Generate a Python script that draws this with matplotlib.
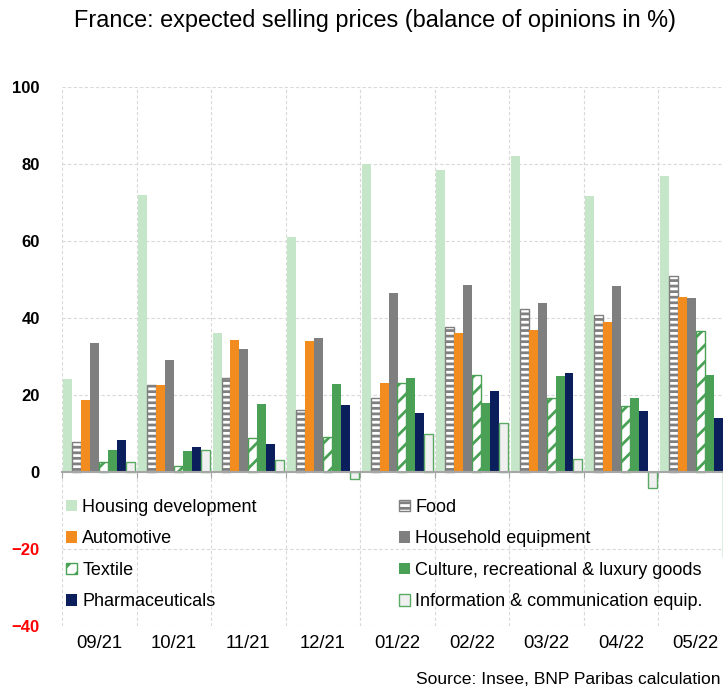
import numpy as np
import matplotlib
matplotlib.use("Agg")
import matplotlib.pyplot as plt
import matplotlib.transforms as mtransforms

plt.rcParams['font.family'] = ['Liberation Sans', 'DejaVu Sans']
plt.rcParams['hatch.linewidth'] = 2.0

# data
months = ["09/21", "10/21", "11/21", "12/21", "01/22", "02/22", "03/22", "04/22", "05/22"]
housing = [24.1, 72.0, 36.1, 61.0, 79.9, 78.4, 81.9, 71.7, 76.7]
food = [7.6, 22.5, 24.4, 16.0, 19.2, 37.6, 42.2, 40.7, 50.9]
automotive = [18.7, 22.5, 34.2, 33.9, 23.1, 36.0, 36.8, 38.8, 45.5]
household = [33.4, 29.0, 31.9, 34.7, 46.5, 48.6, 43.8, 48.2, 45.2]
textile = [2.5, 1.5, 8.7, 9.0, 23.0, 25.0, 19.1, 17.1, 36.5]
culture = [5.6, 5.4, 17.7, 22.8, 24.4, 17.8, 24.8, 19.1, 25.2]
pharma = [8.2, 6.4, 7.2, 17.4, 15.2, 21.0, 25.6, 15.7, 14.0]
info = [2.6, 5.6, 3.1, -1.9, 9.8, 12.6, 3.3, -4.2, -22.1]

labels = ["Housing development", "Food", "Automotive", "Household equipment",
          "Textile", "Culture, recreational & luxury goods", "Pharmaceuticals",
          "Information & communication equip."]
series = [housing, food, automotive, household, textile, culture, pharma, info]

# fill, edge, hatch
styles = [
    ("#c6e6c9", "none", None),
    ("white", "#7f7f7f", "---"),
    ("#f28c1e", "none", None),
    ("#7f7f7f", "none", None),
    ("white", "#4aa155", "//"),
    ("#4aa155", "none", None),
    ("#0b1f5c", "none", None),
    ("#f0f0f0", "#5aaa64", None),
]

fig = plt.figure(figsize=(7.23, 6.91), dpi=100)
ax = fig.add_axes([62/723, 1 - 625.7/691, 671/723, 539/691])

x = np.arange(len(months))
w = 0.12
bars = []
for j, vals in enumerate(series):
    fc, ec, hatch = styles[j]
    b = ax.bar(x + (j - 3.5) * w, vals, w, color=fc, edgecolor=ec,
               hatch=hatch, linewidth=1.0 if ec != "none" else 0, zorder=3,
               label=labels[j])
    bars.append(b)

ax.set_xlim(-0.5, 8.5)
ax.set_ylim(-40, 100)
ax.set_yticks(range(-40, 101, 20))

# grid
ax.grid(axis='y', linestyle=(0, (3, 2)), color='#d9d9d9', linewidth=0.8, zorder=0)
ax.grid(axis='x', linestyle=(0, (3, 2)), color='#d9d9d9', linewidth=0.8, zorder=0)
ax.set_axisbelow(True)

bounds = np.arange(-0.5, 9, 1.0)
ax.set_xticks(bounds)
ax.tick_params(axis='x', length=4, color='#a6a6a6', labelbottom=False, direction='out')
ax.spines['bottom'].set_position(('data', 0))
ax.spines['bottom'].set_color('#a6a6a6')
ax.spines['bottom'].set_linewidth(1.5)
ax.spines['bottom'].set_zorder(4)
for s in ['left', 'right', 'top']:
    ax.spines[s].set_visible(False)

ax.tick_params(axis='y', length=0, pad=16)
for lab, v in zip(ax.get_yticklabels(), ax.get_yticks()):
    lab.set_fontweight('bold')
    lab.set_fontsize(12)
    lab.set_color('red' if v < 0 else 'black')

# month labels at the bottom
trans = mtransforms.blended_transform_factory(ax.transData, fig.transFigure)
for i, m in enumerate(months):
    ax.text(i, 1 - 643/691, m, transform=trans, ha='center', va='center', fontsize=13.3)

# legend in two columns
h = [b for b in bars]
kw = dict(frameon=False, fontsize=13, handlelength=0.6, handleheight=0.6,
          handletextpad=0.3, labelspacing=0.8, borderaxespad=0, borderpad=0,
          loc='upper left', bbox_transform=fig.transFigure)
leg1 = ax.legend([h[i] for i in (0, 2, 4, 6)], [labels[i] for i in (0, 2, 4, 6)],
                 bbox_to_anchor=(66/723, 1 - 499/691), **kw)
ax.add_artist(leg1)
ax.legend([h[i] for i in (1, 3, 5, 7)], [labels[i] for i in (1, 3, 5, 7)],
          bbox_to_anchor=(399/723, 1 - 499/691), **kw)

fig.text(375/723, 1 - 20/691, "France: expected selling prices (balance of opinions in %)",
         ha='center', va='center', fontsize=16.9)
fig.text(720/723, 1 - 680/691, "Source: Insee, BNP Paribas calculation",
         ha='right', va='center', fontsize=12.6)

fig.savefig("out.png", dpi=100)
